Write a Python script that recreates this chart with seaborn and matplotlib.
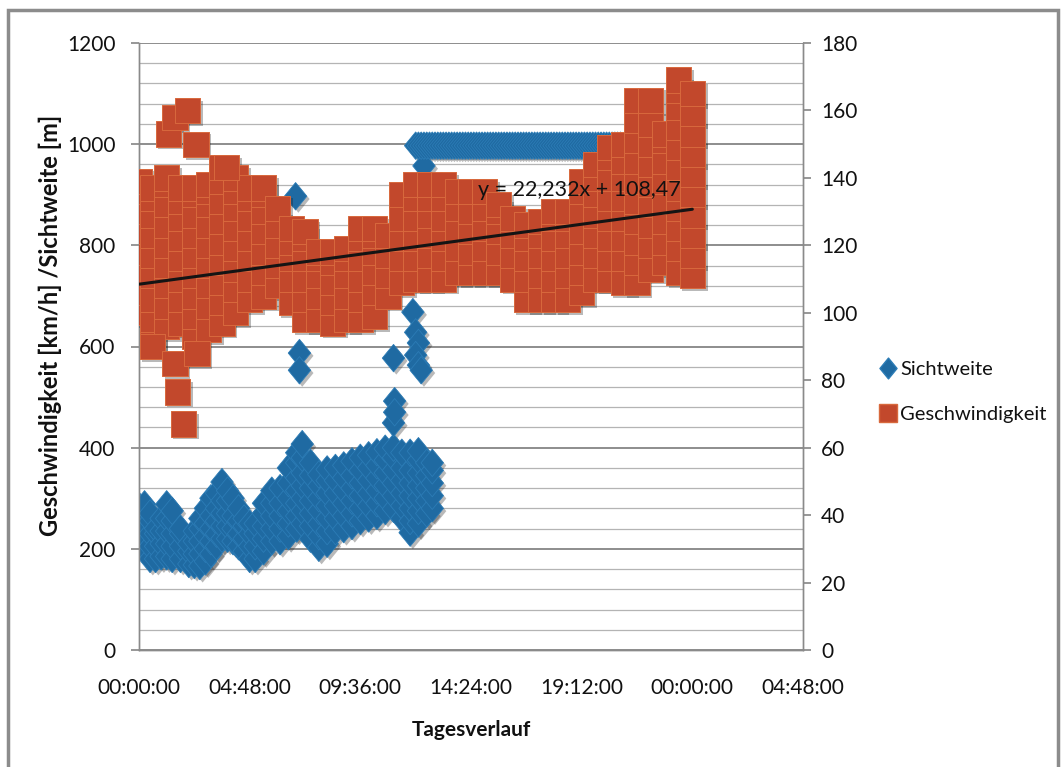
import numpy as np
import pandas as pd
import matplotlib
matplotlib.use("Agg")
import matplotlib.pyplot as plt
import seaborn as sns
from matplotlib.path import Path
from matplotlib.lines import Line2D
from matplotlib.patches import Rectangle
from matplotlib.ticker import MultipleLocator
import matplotlib.patheffects as pe

sns.set_theme(style="white")
plt.rcParams['font.family'] = ['Lato', 'DejaVu Sans']

# --- data (time as fraction of a day) ---
# Geschwindigkeit [km/h], right axis, one column of points per time step
speed_col_t = [0.000, 0.025, 0.050, 0.075, 0.100, 0.125, 0.150, 0.175, 0.200, 0.225,
               0.250, 0.275, 0.300, 0.325, 0.350, 0.375, 0.400, 0.425, 0.450, 0.475,
               0.500, 0.525, 0.550, 0.575, 0.600, 0.625, 0.650, 0.675, 0.700, 0.725,
               0.750, 0.775, 0.800, 0.825, 0.850, 0.875, 0.900, 0.925, 0.950, 0.975, 1.000]
speed_cols = [
    [100, 106, 112, 118, 124, 130, 136, 139],
    [91, 98, 104, 111, 117, 123, 129, 134, 137],
    [96, 102, 108, 114, 120, 126, 132, 138, 140],
    [97, 104, 110, 116, 122, 128, 133, 137],
    [93, 99, 105, 111, 117, 123, 129, 135, 137],
    [95, 102, 108, 114, 120, 126, 132, 136, 138],
    [97, 103, 109, 115, 121, 127, 133, 139, 143],
    [100, 107, 113, 119, 125, 131, 136, 140],
    [104, 110, 116, 122, 128, 134, 137],
    [105, 112, 118, 124, 130, 135, 137],
    [108, 114, 120, 126, 131],
    [103, 110, 116, 121, 125],
    [98, 104, 110, 116, 122, 124],
    [98, 105, 111, 116, 118],
    [97, 103, 109, 115, 118],
    [98, 105, 111, 116, 119],
    [98, 104, 110, 116, 122, 125],
    [99, 106, 112, 118, 123, 125],
    [105, 111, 117, 123],
    [109, 116, 122, 128, 135],
    [110, 116, 122, 128, 134, 138],
    [110, 117, 123, 129, 134, 138],
    [110, 116, 122, 128, 134, 138],
    [112, 119, 125, 131, 136],
    [112, 118, 124, 130, 136],
    [112, 119, 125, 131, 136],
    [112, 118, 124, 130, 132],
    [110, 117, 123, 128],
    [104, 110, 116, 122, 126],
    [104, 111, 117, 123, 127],
    [104, 110, 116, 122, 128, 130],
    [104, 111, 117, 123, 128, 130],
    [106, 112, 118, 124, 130, 136, 139],
    [110, 117, 123, 129, 135, 140, 144],
    [110, 116, 122, 128, 134, 140, 146, 149],
    [109, 116, 122, 128, 134, 140, 145, 150],
    [109, 115, 121, 127, 133, 139, 145, 151, 157, 163],
    [113, 120, 126, 132, 138, 144, 150, 156, 163],
    [115, 121, 127, 133, 139, 145, 151, 153],
    [112, 119, 125, 131, 137, 143, 149, 155, 161, 166, 169],
    [111, 117, 123, 129, 135, 141, 147, 153, 159, 165],
]
speed_out_t = [0.053, 0.065, 0.088, 0.103, 0.158, 0.024, 0.065, 0.069, 0.080, 0.105]
speed_out_kmh = [153, 158, 160, 150, 143, 90, 85, 76.5, 67, 88]

# Sichtweite [m], left axis
vis_col_t = [0.000, 0.010, 0.020, 0.030, 0.040, 0.050, 0.060, 0.075, 0.090, 0.100,
             0.110, 0.120, 0.130, 0.140, 0.150, 0.160, 0.170, 0.180, 0.190, 0.200,
             0.210, 0.225, 0.240, 0.255, 0.270, 0.285, 0.295, 0.310, 0.325, 0.340,
             0.355, 0.370, 0.385, 0.400, 0.415, 0.430, 0.445, 0.460, 0.475, 0.490,
             0.505, 0.520, 0.530]
vis_cols = [
    [245, 265, 285],
    [200, 225, 250, 270, 288],
    [180, 205, 230, 255, 270],
    [180, 205, 230, 240],
    [185, 210, 235, 260],
    [185, 210, 235, 260, 288],
    [180, 205, 230, 255, 275],
    [180, 205, 230, 240],
    [170, 195, 210],
    [168, 190, 215, 235],
    [166, 190, 215, 240, 260],
    [175, 200, 225, 250, 280],
    [190, 215, 240, 265, 300],
    [205, 230, 255, 280, 310],
    [220, 245, 270, 295, 332],
    [220, 245, 270, 295, 315],
    [215, 240, 265, 300],
    [205, 230, 255, 280],
    [195, 220, 245, 260],
    [180, 205, 230, 250],
    [180, 205, 230, 250],
    [195, 220, 245, 270, 290],
    [215, 240, 265, 290, 315],
    [215, 240, 265, 290, 320],
    [225, 250, 275, 300, 330, 360],
    [240, 265, 290, 315, 340, 370, 390],
    [250, 275, 300, 325, 350, 380, 407],
    [220, 245, 270, 295, 320, 345, 370],
    [202, 225, 250, 275, 300, 325, 347],
    [210, 235, 260, 285, 310, 335, 357],
    [235, 260, 285, 310, 335, 360],
    [239, 265, 290, 315, 340, 365],
    [245, 270, 295, 320, 345, 373],
    [255, 280, 305, 330, 355, 380],
    [260, 285, 310, 335, 360, 385],
    [265, 290, 315, 340, 365, 391],
    [275, 300, 325, 350, 375, 398],
    [279, 305, 330, 355, 380, 400],
    [260, 285, 310, 335, 360, 390],
    [232, 255, 280, 305, 330, 355, 390],
    [250, 275, 300, 325, 350, 375, 393],
    [270, 295, 320, 345, 370],
    [280, 305, 330, 355, 370],
]
vis_out_t = [0.283, 0.290, 0.290, 0.460, 0.462, 0.460, 0.462, 0.495, 0.500, 0.505, 0.500, 0.505, 0.510, 0.515]
vis_out_m = [897, 587, 553, 577, 492, 449, 470, 668, 628, 607, 583, 563, 553, 957]
# values capped at the sensor maximum
band_t = [0.500, 0.505, 0.51, 0.515, 0.52, 0.525, 0.53, 0.535, 0.54, 0.545, 0.55, 0.555,
          0.56, 0.565, 0.57, 0.575, 0.58, 0.585, 0.59, 0.595, 0.60, 0.605, 0.61, 0.615,
          0.62, 0.625, 0.63, 0.635, 0.64, 0.645, 0.65, 0.655, 0.66, 0.665, 0.67, 0.675,
          0.68, 0.685, 0.69, 0.695, 0.70, 0.705, 0.71, 0.715, 0.72, 0.725, 0.73, 0.735,
          0.74, 0.745, 0.75, 0.755, 0.76, 0.765, 0.77, 0.775, 0.78, 0.785, 0.79, 0.795,
          0.80, 0.805, 0.81, 0.815, 0.82, 0.825, 0.83, 0.835, 0.84, 0.845, 0.85, 0.855,
          0.86, 0.865, 0.87, 0.88, 0.89, 0.90, 0.92, 0.94, 0.96, 0.98, 1.00]
band_m = [997] * len(band_t)

trend_slope = 22.232
trend_icpt = 108.47

x_ticks = [0.0, 0.2, 0.4, 0.6, 0.8, 1.0, 1.2]
x_labels = ["00:00:00", "04:48:00", "09:36:00", "14:24:00", "19:12:00", "00:00:00", "04:48:00"]

blue = "#1f6aa2"
red = "#c2482c"
ink = "#111111"

speed_df = pd.DataFrame({
    "t": [t for t, col in zip(speed_col_t, speed_cols) for _ in col] + speed_out_t,
    "kmh": [v for col in speed_cols for v in col] + speed_out_kmh,
})
vis_df = pd.DataFrame({
    "t": [t for t, col in zip(vis_col_t, vis_cols) for _ in col] + vis_out_t + band_t,
    "m": [v for col in vis_cols for v in col] + vis_out_m + band_m,
})

diamond = Path([(0, 1), (0.82, 0), (0, -1), (-0.82, 0), (0, 1)],
               [Path.MOVETO, Path.LINETO, Path.LINETO, Path.LINETO, Path.CLOSEPOLY])
shadow = [pe.SimplePatchShadow(offset=(2, -2), shadow_rgbFace="k", alpha=0.3), pe.Normal()]

fig = plt.figure(figsize=(10.64, 7.67), dpi=100)
ax = fig.add_axes([139 / 1064, 117 / 767, 664 / 1064, 607 / 767])
ax2 = ax.twinx()

sns.scatterplot(data=vis_df, x="t", y="m", marker=diamond, s=390, color=blue,
                edgecolor="#2c7cb6", linewidth=0.6, ax=ax, legend=False,
                path_effects=shadow, zorder=3)
sns.scatterplot(data=speed_df, x="t", y="kmh", marker="s", s=330, color=red,
                edgecolor="#d8693d", linewidth=0.7, ax=ax2, legend=False,
                path_effects=shadow, zorder=3)

tr_x = np.array([speed_df["t"].min(), speed_df["t"].max()])
ax2.plot(tr_x, trend_slope * tr_x + trend_icpt, color="#141414", lw=2.2, zorder=4)
eq = f"y = {trend_slope:.3f}x + {trend_icpt:.2f}".replace(".", ",")
ax2.text(0.612, 136.4, eq, fontsize=15.5, color=ink, va="center", ha="left", zorder=5)

# axes
ax.set_xlim(0, 1.2)
ax.set_ylim(0, 1200)
ax2.set_ylim(0, 180)
ax.set_xticks(x_ticks)
ax.set_xticklabels(x_labels)
ax.set_yticks(range(0, 1201, 200))
ax.yaxis.set_minor_locator(MultipleLocator(40))
ax2.set_yticks(range(0, 181, 20))
ax.set_axisbelow(True)
ax.grid(False)
ax.grid(which="major", axis="y", color="#7a7a7a", lw=1.2)
ax.grid(which="minor", axis="y", color="#b4b4b4", lw=0.9)
ax2.grid(False)

for a in (ax, ax2):
    a.spines["top"].set_visible(False)
    for side in ("left", "right", "bottom"):
        a.spines[side].set_color("#8a8a8a")
        a.spines[side].set_linewidth(1.0)
ax.tick_params(axis="x", which="major", direction="out", length=6, color="#8a8a8a",
               labelsize=15, pad=14, labelcolor=ink)
ax.tick_params(axis="y", which="major", direction="out", length=6, color="#8a8a8a",
               labelsize=15, pad=11, labelcolor=ink)
ax.tick_params(axis="y", which="minor", length=0)
ax2.tick_params(axis="y", which="major", direction="out", length=6, color="#8a8a8a",
                labelsize=15, pad=7, labelcolor=ink)
ax.patch.set_facecolor("white")
ax2.patch.set_visible(False)

ax.set_xlabel("Tagesverlauf", fontsize=15, fontweight="bold", labelpad=16, color=ink)
ax.set_ylabel("Geschwindigkeit [km/h] /Sichtweite [m]", fontsize=17, fontweight="bold",
              color=ink)
ax.yaxis.set_label_coords(-0.116, 0.535)
ax2.set_ylabel("")

handles = [
    Line2D([], [], marker=diamond, ls="", color=blue, ms=15, mec="#2c7cb6"),
    Line2D([], [], marker="s", ls="", color=red, ms=13, mec="#d8693d"),
]
fig.legend(handles, ["Sichtweite", "Geschwindigkeit"], loc="center left",
           bbox_to_anchor=(863 / 1064, (767 - 392) / 767), frameon=False, fontsize=14.5,
           handlelength=0.7, handletextpad=0.25, labelspacing=1.35, labelcolor=ink)

fig.patches.append(Rectangle((8 / 1064, -0.02), 1050 / 1064, (757 / 767) + 0.02,
                             transform=fig.transFigure, fill=False,
                             edgecolor="#8c8c8c", lw=2.5))

fig.savefig("out.png", dpi=100, facecolor="white")
